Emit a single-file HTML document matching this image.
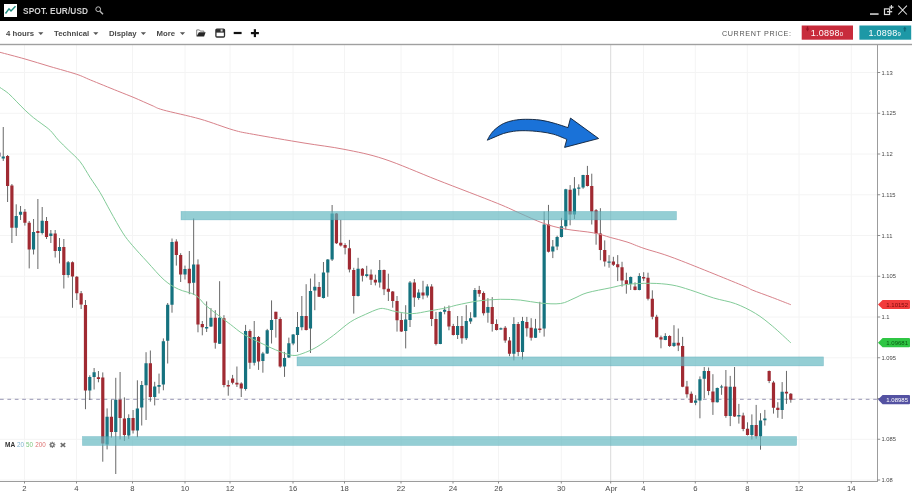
<!DOCTYPE html><html><head><meta charset="utf-8"><title>SPOT. EUR/USD</title><style>html,body{margin:0;padding:0;background:#fff;}body{width:912px;height:495px;position:relative;overflow:hidden;font-family:"Liberation Sans",sans-serif;}</style></head><body><svg width="912" height="495" viewBox="0 0 912 495" style="position:absolute;left:0;top:0;will-change:transform">
<rect x="0" y="0" width="912" height="495" fill="#fff"/>
<path d="M24.5 45V481M76.5 45V481M132.5 45V481M185 45V481M230 45V481M293 45V481M344.5 45V481M401 45V481M453 45V481M498.5 45V481M561.3 45V481M643.5 45V481M695.3 45V481M747.3 45V481M799 45V481M851.3 45V481M0 72.5H877M0 113.25H877M0 154H877M0 194.75H877M0 235.5H877M0 276.25H877M0 317H877M0 357.75H877M0 398.5H877M0 439.25H877M0 480H877" stroke="#f4f4f4" stroke-width="1" fill="none"/>
<path d="M610.7 45V481" stroke="#dadada" stroke-width="1" fill="none"/>
<path d="M0 399.3H877" stroke="#9795b3" stroke-width="1" stroke-dasharray="3.7 3.7" fill="none"/>
<path d="M3.25 127V161M7.58 155V202M11.9 184V243M16.23 204.3V236M20.56 206V220M24.89 209V225.6M29.21 221V268.4M33.54 219V254.5M37.87 199V269M42.19 207V234.5M46.52 217V239M50.85 230V243M55.18 230V257.5M59.5 238V263.4M63.83 239V288.5M68.16 261V277.6M72.49 261.4V307.8M76.81 276V300M81.14 291V309M85.47 300V409.2M89.79 375.3V400M94.12 368V389.5M98.45 371V382.3M102.78 372.4V461.7M107.1 408.4V449.4M111.43 399.7V437.7M115.76 377.8V474M120.08 372V439.4M124.41 397.4V441M128.74 414.3V438.9M133.07 410V433.5M137.39 380.3V437.2M141.72 381V425.5M146.05 352.2V420M150.37 350.5V401.7M154.7 381.8V405.4M159.03 373.6V393.5M163.36 338.4V390.3M167.68 303V363.5M172.01 238.5V312.7M176.34 239.3V265.6M180.67 253.2V282M184.99 265.6V279.5M189.32 251V294.2M193.65 218.4V295M197.97 259.4V332.3M202.3 321V335.3M206.63 301.4V332M210.96 308.1V327M215.28 310.2V348.7M219.61 281.2V344M223.94 315.2V387.3M228.26 380.3V395.7M232.59 374.9V384.4M236.92 366.5V387M241.25 382.3V397M245.57 324.9V390.6M249.9 329.4V368.9M254.23 321V365.5M258.55 336V369.9M262.88 351.9V372.7M267.21 328.9V354M271.54 300.4V343.5M275.86 311.8V337.6M280.19 317.2V367.7M284.52 351.9V376.9M288.85 337.6V358M293.17 334V345.2M297.5 312V352M301.83 296V330.3M306.15 284.2V330.5M310.48 278.5V353M314.81 273.7V310.2M319.14 282V297M323.46 262V298.5M327.79 259V296.8M332.12 205V261M336.44 213V244M340.77 219.8V246.5M345.1 243.2V254.4M349.43 239.9V272.4M353.75 267.8V313.6M358.08 257.8V296.5M362.41 268V281.5M366.73 265.8V277.4M371.06 269.5V285M375.39 274.7V285.4M379.72 260V287.6M384.04 269.5V295.1M388.37 273.7V301M392.7 291V307.7M397.03 296V331.6M401.35 313.2V332M405.68 305.2V348.4M410.01 281V327M414.33 279V306.9M418.66 289.3V299.8M422.99 280.8V299.3M427.32 284.2V297.6M431.64 284.2V326.1M435.97 311.9V345.4M440.3 311.5V344.2M444.62 306.5V314.3M448.95 305.5V330.3M453.28 323.9V335.5M457.61 316V339M461.93 316V343.7M466.26 305.1V340M470.59 312.2V323.9M474.91 288V317.5M479.24 285.9V296.8M483.57 291.4V315.5M487.9 298.1V322.7M492.22 297.1V331.6M496.55 319.4V330.5M500.88 327.5V329.8M505.21 326V342.8M509.53 337V356.2M513.86 317.2V360.4M518.19 322V356.2M522.51 316.9V359.6M526.84 316.9V336.6M531.17 318.2V340.6M535.5 318.9V338M539.82 301.8V332.8M544.15 211.6V336.6M548.48 204.9V252.5M552.8 240V258.1M557.13 235.7V250.1M561.46 217.8V237.5M565.79 188.8V229.5M570.11 185.1V225.3M574.44 177.1V219M578.77 184.3V195.5M583.09 174.8V188.8M587.42 165.9V186.5M591.75 173.7V224.5M596.08 209V244.7M600.4 208.2V260.2M604.73 240.4V266.5M609.06 255.1V267.7M613.39 256.8V266M617.71 255.1V281.1M622.04 261.8V286.6M626.37 272.7V293.7M630.69 276.5V290M635.02 282.3V290.3M639.35 273.2V290.3M643.68 272.2V281.1M648 272.7V300.4M652.33 290.3V319.3M656.66 314.8V337.5M660.98 335.6V348.3M665.31 333.2V340.2M669.64 335.2V347M673.97 325.2V347M678.29 328.5V351.1M682.62 336.9V387.2M686.95 380.9V397.7M691.27 391.5V403M695.6 395.2V405.2M699.93 376.4V418.3M704.26 367V398.5M708.58 367.5V395.2M712.91 374.2V414.9M717.24 387.5V402.5M721.57 384.8V394.8M725.89 370V417.8M730.22 375.9V426.1M734.55 367V417M738.87 403.9V423.6M743.2 412.7V431.2M747.53 422.3V435.5M751.86 414.4V439.5M756.18 404.9V438.7M760.51 413.2V449.7M764.84 409.9V425.6M769.16 370.5V383.1M773.49 380.9V413.6M777.82 402.2V417.8M782.15 382.1V418.9M786.47 370.9V403.9M790.8 393V402.7" stroke="#585858" stroke-width="0.9" fill="none"/>
<path d="M1.65 156.5h3.2V158.5h-3.2zM14.63 216h3.2V227.7h-3.2zM18.96 211.8h3.2V214.8h-3.2zM31.94 232h3.2V249.5h-3.2zM40.59 220.7h3.2V233h-3.2zM49.25 233.6h3.2V236h-3.2zM57.9 247h3.2V251h-3.2zM66.56 262.2h3.2V275h-3.2zM88.19 377h3.2V390.4h-3.2zM92.52 372.3h3.2V377h-3.2zM105.5 416.8h3.2V444.4h-3.2zM114.16 399.7h3.2V431.9h-3.2zM127.14 418h3.2V435.5h-3.2zM135.79 408.4h3.2V430.5h-3.2zM140.12 385h3.2V407.6h-3.2zM144.45 363.2h3.2V385.3h-3.2zM153.1 386.4h3.2V397h-3.2zM157.43 385h3.2V386.7h-3.2zM161.76 341.2h3.2V384.6h-3.2zM166.08 304.8h3.2V340.8h-3.2zM170.41 241.9h3.2V304.8h-3.2zM183.39 269h3.2V274.5h-3.2zM192.05 264.5h3.2V282.7h-3.2zM205.03 326.9h3.2V328.6h-3.2zM209.36 317.7h3.2V326.6h-3.2zM218.01 317.7h3.2V343.7h-3.2zM243.97 331.1h3.2V389h-3.2zM252.63 337h3.2V362.7h-3.2zM261.28 353.5h3.2V361.1h-3.2zM265.61 330.3h3.2V353.6h-3.2zM269.94 319.9h3.2V329.9h-3.2zM282.92 358h3.2V366.5h-3.2zM287.25 343.3h3.2V357.5h-3.2zM291.57 334.5h3.2V343.5h-3.2zM295.9 327.1h3.2V334.9h-3.2zM300.23 316h3.2V327.3h-3.2zM308.88 291h3.2V328.6h-3.2zM313.21 286.8h3.2V290.4h-3.2zM321.86 272.5h3.2V298.1h-3.2zM326.19 259.5h3.2V272.5h-3.2zM330.52 213.4h3.2V259.5h-3.2zM356.48 268.7h3.2V296h-3.2zM365.13 274.2h3.2V276h-3.2zM378.12 270h3.2V282.6h-3.2zM404.08 319.4h3.2V331.1h-3.2zM408.41 282.6h3.2V319.9h-3.2zM417.06 292.6h3.2V298.1h-3.2zM425.72 286.4h3.2V295.5h-3.2zM438.7 311.9h3.2V344h-3.2zM443.02 309.8h3.2V311.8h-3.2zM456.01 326h3.2V334.9h-3.2zM464.66 321h3.2V338.3h-3.2zM468.99 318.2h3.2V321.5h-3.2zM473.31 290h3.2V317.2h-3.2zM486.3 307.1h3.2V312.7h-3.2zM499.28 328.2h3.2V329.6h-3.2zM512.26 323.9h3.2V353.7h-3.2zM520.91 321h3.2V352h-3.2zM533.9 328.6h3.2V337.8h-3.2zM542.55 224.5h3.2V328.6h-3.2zM551.2 246.4h3.2V251.4h-3.2zM555.53 237h3.2V246.4h-3.2zM559.86 226.2h3.2V237h-3.2zM564.19 189.3h3.2V226.2h-3.2zM572.84 188.5h3.2V214.4h-3.2zM577.17 187.6h3.2V188.8h-3.2zM581.49 175.1h3.2V187.6h-3.2zM607.46 261.5h3.2V262.8h-3.2zM629.09 276.9h3.2V283.9h-3.2zM637.75 276.1h3.2V290h-3.2zM663.71 336.1h3.2V339.9h-3.2zM672.37 342.8h3.2V346.1h-3.2zM694 400.5h3.2V402.7h-3.2zM698.33 379.2h3.2V400.5h-3.2zM702.66 370.9h3.2V378.7h-3.2zM715.64 388.1h3.2V402.2h-3.2zM719.97 386.4h3.2V387.6h-3.2zM728.62 386.8h3.2V416.1h-3.2zM737.27 414.9h3.2V416.6h-3.2zM750.26 425h3.2V435h-3.2zM758.91 420.6h3.2V436.2h-3.2zM763.24 418.6h3.2V420.3h-3.2zM780.55 391.8h3.2V409.9h-3.2z" fill="#15727f"/>
<path d="M5.98 156h3.2V186h-3.2zM10.3 185.5h3.2V227.7h-3.2zM23.29 211.8h3.2V222.7h-3.2zM27.61 222.7h3.2V249.5h-3.2zM36.27 231h3.2V233h-3.2zM44.92 221h3.2V237h-3.2zM53.58 233.6h3.2V251h-3.2zM62.23 247h3.2V275h-3.2zM70.89 262.2h3.2V276.5h-3.2zM75.21 276.8h3.2V293.2h-3.2zM79.54 293.2h3.2V304.4h-3.2zM83.87 305h3.2V390.4h-3.2zM96.85 377.3h3.2V379h-3.2zM101.18 377.5h3.2V443.6h-3.2zM109.83 416.8h3.2V431.9h-3.2zM118.48 399.7h3.2V418h-3.2zM122.81 418.5h3.2V434.9h-3.2zM131.47 418h3.2V430.5h-3.2zM148.77 363.2h3.2V397h-3.2zM174.74 241.5h3.2V254.9h-3.2zM179.07 254.9h3.2V274.5h-3.2zM187.72 268.7h3.2V283.2h-3.2zM196.37 264.5h3.2V324.4h-3.2zM200.7 323.9h3.2V327.2h-3.2zM213.68 317.7h3.2V342.8h-3.2zM222.34 318.2h3.2V385h-3.2zM226.66 385h3.2V386.6h-3.2zM230.99 378.6h3.2V382.8h-3.2zM235.32 382.8h3.2V384.4h-3.2zM239.65 383.6h3.2V388.6h-3.2zM248.3 331.1h3.2V362.7h-3.2zM256.95 337h3.2V361.4h-3.2zM274.26 311.8h3.2V318.9h-3.2zM278.59 318.9h3.2V366.5h-3.2zM304.55 316h3.2V330h-3.2zM317.54 287.1h3.2V296.8h-3.2zM334.84 213.4h3.2V243.2h-3.2zM339.17 242.7h3.2V245.6h-3.2zM343.5 244.9h3.2V247.7h-3.2zM347.83 248.2h3.2V269.5h-3.2zM352.15 270h3.2V296h-3.2zM360.81 268.7h3.2V275.7h-3.2zM369.46 274.4h3.2V279.7h-3.2zM373.79 279.8h3.2V282.6h-3.2zM382.44 270h3.2V289.3h-3.2zM386.77 288.8h3.2V291.8h-3.2zM391.1 291.4h3.2V301h-3.2zM395.43 301h3.2V320.3h-3.2zM399.75 319.9h3.2V331.6h-3.2zM412.73 282.6h3.2V297.6h-3.2zM421.39 292.6h3.2V295.5h-3.2zM430.04 286.4h3.2V318.9h-3.2zM434.37 318.9h3.2V344h-3.2zM447.35 311h3.2V326.6h-3.2zM451.68 326h3.2V334.9h-3.2zM460.33 326h3.2V338.3h-3.2zM477.64 290h3.2V293.7h-3.2zM481.97 293.1h3.2V313.2h-3.2zM490.62 307.1h3.2V323.9h-3.2zM494.95 323.9h3.2V329.9h-3.2zM503.61 327.7h3.2V340.6h-3.2zM507.93 340.6h3.2V353.7h-3.2zM516.59 323.9h3.2V352h-3.2zM525.24 321.9h3.2V328.2h-3.2zM529.57 327.7h3.2V337.8h-3.2zM538.22 328.6h3.2V329.9h-3.2zM546.88 224.5h3.2V251.8h-3.2zM568.51 189.8h3.2V214.4h-3.2zM585.82 175.1h3.2V186h-3.2zM590.15 186h3.2V211.6h-3.2zM594.48 210.3h3.2V233.4h-3.2zM598.8 233.4h3.2V250.1h-3.2zM603.13 250.1h3.2V261.5h-3.2zM611.79 261.5h3.2V264.8h-3.2zM616.11 264.3h3.2V267.2h-3.2zM620.44 267.2h3.2V280.6h-3.2zM624.77 280.3h3.2V283.9h-3.2zM633.42 286.6h3.2V290h-3.2zM642.08 276.9h3.2V278.6h-3.2zM646.4 277.7h3.2V298.7h-3.2zM650.73 298.7h3.2V316.8h-3.2zM655.06 316.8h3.2V337.2h-3.2zM659.38 337.2h3.2V339.4h-3.2zM668.04 336.1h3.2V346.1h-3.2zM676.69 342.8h3.2V345.6h-3.2zM681.02 346.1h3.2V386.8h-3.2zM685.35 386.4h3.2V394.3h-3.2zM689.67 393.8h3.2V402.7h-3.2zM706.98 370.9h3.2V391h-3.2zM711.31 391.5h3.2V402.2h-3.2zM724.29 386.4h3.2V416.1h-3.2zM732.95 386.8h3.2V416.6h-3.2zM741.6 415.6h3.2V429h-3.2zM745.93 428.7h3.2V435h-3.2zM754.58 425h3.2V436.2h-3.2zM767.56 370.9h3.2V380.9h-3.2zM771.89 382.6h3.2V407.7h-3.2zM776.22 407.7h3.2V409.9h-3.2zM784.87 391.8h3.2V393.5h-3.2zM789.2 393.8h3.2V399.8h-3.2z" fill="#a02a32"/>
<rect x="-1" y="152.6" width="1.8" height="4" fill="#8f7f9a"/>
<path d="M0 52.3C4.17 53.42 16.67 56.63 25 59C33.33 61.37 41.38 63.95 50 66.5C58.62 69.05 69.95 72.05 76.7 74.3C83.45 76.55 83.73 77.23 90.5 80C97.27 82.77 110.05 87.97 117.3 90.9C124.55 93.83 128.22 95.17 134 97.6C139.78 100.03 147.12 103.43 152 105.5C156.88 107.57 155.3 107.75 163.3 110C171.3 112.25 188.33 115.67 200 119C211.67 122.33 224.42 127.45 233.3 130C242.18 132.55 241.52 132.13 253.3 134.3C265.08 136.47 288.88 140.5 304 143C319.12 145.5 330.67 146.63 344 149.3C357.33 151.97 368.45 153.88 384 159C399.55 164.12 418.42 172.62 437.3 180C456.18 187.38 483.52 197.75 497.3 203.3C511.08 208.85 512.3 209.97 520 213.3C527.7 216.63 536 220.68 543.5 223.3C551 225.92 556.63 227.4 565 229C573.37 230.6 586.12 231.48 593.7 232.9C601.28 234.32 604.95 235.98 610.5 237.5C616.05 239.02 621.42 240.18 627 242C632.58 243.82 636.05 245.68 644 248.4C651.95 251.12 658.48 252.2 674.7 258.3C690.92 264.4 728.38 279.72 741.3 285C754.22 290.28 747.03 287.92 752.2 290C757.37 292.08 765.87 295.05 772.3 297.5C778.73 299.95 787.72 303.5 790.8 304.7" stroke="#d8828a" stroke-width="1" fill="none" stroke-linejoin="round"/>
<path d="M0 87.5C1.4 88.48 5.6 91.02 8.4 93.4C11.2 95.78 14.02 99 16.8 101.8C19.58 104.6 22.32 107.55 25.1 110.2C27.88 112.85 30.7 115.42 33.5 117.7C36.3 119.98 39.1 121.77 41.9 123.9C44.7 126.03 47.52 127.77 50.3 130.5C53.08 133.23 55.58 137.05 58.6 140.3C61.62 143.55 64.82 146.43 68.4 150C71.98 153.57 76.47 157.1 80.1 161.7C83.73 166.3 86.85 172.43 90.2 177.6C93.55 182.77 96.85 187.12 100.2 192.7C103.55 198.28 106.53 204.4 110.3 211.1C114.07 217.8 119.13 227.2 122.8 232.9C126.47 238.6 128.2 240.45 132.3 245.3C136.4 250.15 142.08 256.22 147.4 262C152.72 267.78 159.02 275.47 164.2 280C169.38 284.53 173.33 286.7 178.5 289.2C183.67 291.7 190.73 292.37 195.2 295C199.67 297.63 201.67 301.78 205.3 305C208.93 308.22 212.82 311.07 217 314.3C221.18 317.53 225.93 321.05 230.4 324.4C234.87 327.75 238.22 331.05 243.8 334.4C249.38 337.75 258.03 341.7 263.9 344.5C269.77 347.3 274.25 349.38 279 351.2C283.75 353.02 288.57 354.98 292.4 355.4C296.23 355.82 297.93 355.1 302 353.7C306.07 352.3 311.55 350.07 316.8 347C322.05 343.93 327.92 339.47 333.5 335.3C339.08 331.13 344.98 325.48 350.3 322C355.62 318.52 360.65 316.58 365.4 314.4C370.15 312.22 375.45 309.82 378.8 308.9C382.15 307.98 382.72 308.47 385.5 308.9C388.28 309.33 391.03 310.72 395.5 311.5C399.97 312.28 406.72 313.68 412.3 313.6C417.88 313.52 423.22 311.98 429 311C434.78 310.02 442.37 308.68 447 307.7C451.63 306.72 451.55 306.23 456.8 305.1C462.05 303.97 471.25 301.87 478.5 300.9C485.75 299.93 493.32 299.43 500.3 299.3C507.28 299.17 513.7 299.47 520.4 300.1C527.1 300.73 533.8 302.53 540.5 303.1C547.2 303.67 555.02 304.28 560.6 303.5C566.18 302.72 569.6 300.18 574 298.4C578.4 296.62 580.92 294.57 587 292.8C593.08 291.03 603.8 289.2 610.5 287.8C617.2 286.4 620.5 285.15 627.2 284.4C633.9 283.65 643.23 283.2 650.7 283.3C658.17 283.4 665.4 283.88 672 285C678.6 286.12 683.35 287.83 690.3 290C697.25 292.17 706.17 295.72 713.7 298C721.23 300.28 728.52 301.12 735.5 303.7C742.48 306.28 749.47 309.78 755.6 313.5C761.73 317.22 766.43 321.12 772.3 326C778.17 330.88 787.72 340 790.8 342.8" stroke="#82cb98" stroke-width="1" fill="none" stroke-linejoin="round"/>
<rect x="181" y="211.4" width="495.5" height="8.5" fill="rgba(98,183,191,0.68)" stroke="rgba(70,160,178,0.45)" stroke-width="0.6"/>
<rect x="297" y="356.9" width="526.5" height="9" fill="rgba(98,183,191,0.68)" stroke="rgba(70,160,178,0.45)" stroke-width="0.6"/>
<rect x="82.4" y="436.5" width="714.2" height="9" fill="rgba(98,183,191,0.68)" stroke="rgba(70,160,178,0.45)" stroke-width="0.6"/>
<path d="M487.3 140.2C487.83 139.27 489.2 136.42 490.5 134.6C491.8 132.78 492.93 131.15 495.1 129.3C497.27 127.45 500.42 124.98 503.5 123.5C506.58 122.02 509.97 121.1 513.6 120.4C517.23 119.7 520.83 119.35 525.3 119.3C529.77 119.25 535.65 119.47 540.4 120.1C545.15 120.73 549.2 121.85 553.8 123.1C558.4 124.35 565.63 126.85 568 127.6L570.5 118.1L598.6 138.5L564.6 147.4L566.8 139.4C564.63 138.55 558.2 135.57 553.8 134.3C549.4 133.03 545.15 132.4 540.4 131.8C535.65 131.2 529.77 130.78 525.3 130.7C520.83 130.62 517.23 130.83 513.6 131.3C509.97 131.77 506.58 132.57 503.5 133.5C500.42 134.43 497.8 135.78 495.1 136.9C492.4 138.02 488.6 139.65 487.3 140.2Z" fill="#1a72d8" stroke="#0e2038" stroke-width="0.9" stroke-linejoin="miter"/>
<path d="M877.5 45V481.5M0 481.5H878" stroke="#9c9c9c" stroke-width="1" fill="none"/>
<path d="M877 72.5h3.2M877 113.25h3.2M877 154h3.2M877 194.75h3.2M877 235.5h3.2M877 276.25h3.2M877 317h3.2M877 357.75h3.2M877 398.5h3.2M877 439.25h3.2M877 480h3.2M24.5 481v2.5M76.5 481v2.5M132.5 481v2.5M185 481v2.5M230 481v2.5M293 481v2.5M344.5 481v2.5M401 481v2.5M453 481v2.5M498.5 481v2.5M561.3 481v2.5M643.5 481v2.5M695.3 481v2.5M747.3 481v2.5M799 481v2.5M851.3 481v2.5M610.7 481v2.5" stroke="#8e8e8e" stroke-width="1" fill="none"/>
<g font-family="Liberation Sans, sans-serif" font-size="5.8" fill="#484848">
<text x="881.5" y="74.6">1.13</text>
<text x="881.5" y="115.35">1.125</text>
<text x="881.5" y="156.1">1.12</text>
<text x="881.5" y="196.85">1.115</text>
<text x="881.5" y="237.6">1.11</text>
<text x="881.5" y="278.35">1.105</text>
<text x="881.5" y="319.1">1.1</text>
<text x="881.5" y="359.85">1.095</text>
<text x="881.5" y="400.6">1.09</text>
<text x="881.5" y="441.35">1.085</text>
<text x="881.5" y="482.1">1.08</text>
</g>
<g font-family="Liberation Sans, sans-serif" font-size="7.7" fill="#4a4a4a" text-anchor="middle">
<text x="24.5" y="491">2</text>
<text x="76.5" y="491">4</text>
<text x="132.5" y="491">8</text>
<text x="185" y="491">10</text>
<text x="230" y="491">12</text>
<text x="293" y="491">16</text>
<text x="344.5" y="491">18</text>
<text x="401" y="491">22</text>
<text x="453" y="491">24</text>
<text x="498.5" y="491">26</text>
<text x="561.3" y="491">30</text>
<text x="643.5" y="491">4</text>
<text x="695.3" y="491">6</text>
<text x="747.3" y="491">8</text>
<text x="799" y="491">12</text>
<text x="851.3" y="491">14</text>
<text x="611.3" y="491">Apr</text>
</g>
<path d="M878 304.5L882.6 299.9H909a1 1 0 0 1 1 1V308.1a1 1 0 0 1 -1 1H882.6Z" fill="#f23c3c"/><text x="908" y="306.6" text-anchor="end" font-family="Liberation Sans, sans-serif" font-size="6" fill="#7a0a0a">1.10152</text>
<path d="M878 342.7L882.6 338.1H909a1 1 0 0 1 1 1V346.3a1 1 0 0 1 -1 1H882.6Z" fill="#2fc644"/><text x="908" y="344.8" text-anchor="end" font-family="Liberation Sans, sans-serif" font-size="6" fill="#0a5a14">1.09681</text>
<path d="M878 399.6L882.6 395H909a1 1 0 0 1 1 1V403.2a1 1 0 0 1 -1 1H882.6Z" fill="#5452a2"/><text x="908" y="401.7" text-anchor="end" font-family="Liberation Sans, sans-serif" font-size="6" fill="#ffffff">1.08985</text>
<g font-family="Liberation Sans, sans-serif" font-size="6.3"><text x="5" y="447" font-weight="bold" font-size="6.5" fill="#333">MA</text><text x="17.1" y="447" fill="#7fb2cf">20</text><text x="26" y="447" fill="#7cc77f">50</text><text x="35.2" y="447" fill="#de7473">200</text></g>
<g transform="translate(52.3 444.8)"><path d="M0 -3.1V3.1M-3.1 0H3.1M-2.2 -2.2L2.2 2.2M-2.2 2.2L2.2 -2.2" stroke="#777" stroke-width="1.15"/><circle r="2.3" fill="#777"/><circle r="1" fill="#fff"/></g>
<path d="M60.7 443.2l4.5 3.7M65.2 443.2l-4.5 3.7" stroke="#6c6c6c" stroke-width="1.5" fill="none"/>
<rect x="0" y="0" width="912" height="21" fill="#000"/>
<rect x="0" y="21" width="912" height="23.4" fill="#fff"/>
<rect x="0" y="43.8" width="912" height="1.4" fill="#a0a0a0"/>
<rect x="4" y="4" width="13" height="13" fill="#fff"/>
<path d="M5.5 13.5L9 8.8L11 11L15.5 6.2" stroke="#1f8c80" stroke-width="1.4" fill="none"/>
<text x="23" y="13.7" font-family="Liberation Sans, sans-serif" font-size="8.3" font-weight="bold" fill="#d0d0d0" letter-spacing="0.12">SPOT. EUR/USD</text>
<g stroke="#bdbdbd" fill="none"><circle cx="98.2" cy="9.2" r="2.4" stroke-width="1"/><path d="M100 11.2L103 14.2" stroke-width="1.4"/></g>
<rect x="870" y="13.2" width="8.6" height="1.7" fill="#c4c4c4"/>
<g stroke="#dedede" fill="none"><rect x="884.5" y="8.9" width="5.1" height="5.6" stroke-width="1.2"/><path d="M887 11.7h5.2" stroke-width="1.3"/><path d="M891.4 5v4.2M889.3 7.1h4.2" stroke-width="1.1"/><path d="M898.3 5.6l8.6 8.9M906.9 5.6l-8.6 8.9" stroke-width="1.05" stroke="#e2e2e2"/></g>
<g font-family="Liberation Sans, sans-serif" font-size="7.75" font-weight="bold" fill="#484848"><text x="6" y="36.2">4 hours</text><text x="54" y="36.2">Technical</text><text x="109" y="36.2">Display</text><text x="156.5" y="36.2">More</text></g>
<path d="M38.199999999999996 32.2h5.2l-2.6 2.9z" fill="#555"/>
<path d="M93.2 32.2h5.2l-2.6 2.9z" fill="#555"/>
<path d="M140.8 32.2h5.2l-2.6 2.9z" fill="#555"/>
<path d="M179.9 32.2h5.2l-2.6 2.9z" fill="#555"/>
<path d="M196.7 36.2V29.9h2.7l0.9 1.2h3.5v1.3" fill="none" stroke="#707070" stroke-width="0.9" stroke-linejoin="round"/>
<path d="M198.8 32.2h6.8l-1.5 4.4h-7.5z" fill="#262626"/>
<rect x="215.9" y="29.1" width="8.6" height="7.9" rx="1" fill="#fff" stroke="#2e2e2e" stroke-width="1.3"/>
<rect x="216" y="29.2" width="8.4" height="3.4" fill="#2e2e2e"/><rect x="220.6" y="29.4" width="2" height="2.1" fill="#d8d8d8"/>
<rect x="233.7" y="31.9" width="7.9" height="2.2" fill="#111"/>
<rect x="250.9" y="32" width="8" height="2.2" fill="#111"/><rect x="253.8" y="29.2" width="2.2" height="7.9" fill="#111"/>
<text x="722" y="36" font-family="Liberation Sans, sans-serif" font-size="7.2" fill="#555" letter-spacing="0.62">CURRENT PRICE:</text>
<rect x="801.7" y="25.5" width="51.3" height="14.2" fill="#c82c3c"/>
<rect x="859.4" y="25.5" width="51.8" height="14.2" fill="#1d98a6"/>
<path d="M805.7 28.6h3.6l-1.8 2.9z" fill="#9a1424"/><rect x="806.8" y="26.4" width="1.4" height="2.4" fill="#9a1424"/>
<path d="M903 29.3h3.6l-1.8-2.9z" fill="#116a78"/><rect x="904.1" y="29.1" width="1.4" height="2.4" fill="#116a78"/>
<g font-family="Liberation Sans, sans-serif" fill="#fff"><text x="810.8" y="35.5" font-size="9" letter-spacing="0.25">1.0898<tspan font-size="6">0</tspan></text><text x="868.5" y="35.5" font-size="9" letter-spacing="0.25">1.0898<tspan font-size="6">9</tspan></text></g>
</svg></body></html>
